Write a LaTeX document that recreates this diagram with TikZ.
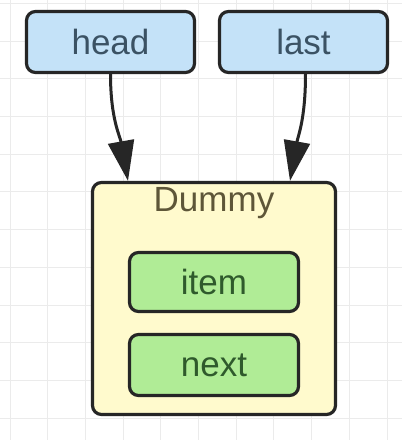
\documentclass[tikz,border=0pt]{standalone}
\usepackage{fontspec}
\setmainfont{Liberation Sans}
\usetikzlibrary{arrows.meta}
\definecolor{ptrfill}{HTML}{C4E2F8}
\definecolor{nodefill}{HTML}{FFFACD}
\definecolor{fieldfill}{HTML}{B0EC96}
\definecolor{gridcol}{HTML}{EBEBEB}
\definecolor{ptrtext}{HTML}{3B5264}
\definecolor{nodetext}{HTML}{5E5638}
\definecolor{fieldtext}{HTML}{2F5A2C}
\tikzset{
  box/.style={draw=black!85, line width=3.2pt, rounded corners=9pt,
    font=\fontsize{35}{40}\selectfont},
  ptrbox/.style={box, fill=ptrfill, text=ptrtext, minimum width=168pt, minimum height=61pt},
  fieldbox/.style={box, fill=fieldfill, text=fieldtext, minimum width=169pt, minimum height=59pt},
  ptr/.style={draw=black!85, line width=3pt, -{Triangle[length=40pt,width=26pt]}},
  gridln/.style={gridcol, line width=1pt}
}
\begin{document}
\begin{tikzpicture}[x=1pt,y=-1pt]
      \useasboundingbox[fill=white] (0,0) rectangle (402,440);
      \foreach \g in {0,...,10} \draw[gridln] ({10+37.7*\g},0) -- ({10+37.7*\g},440);
      \foreach \g in {0,...,11} \draw[gridln] (0,{3.4+37.7*\g}) -- (402,{3.4+37.7*\g});
      \node[ptrbox] (head) at (110.5,42) {head};
      \node[ptrbox] (last) at (303.5,42) {last};
      \node[box, fill=nodefill, minimum width=243pt, minimum height=232pt] (dummy) at (214,298.5) {};
      \node[text=nodetext, font=\fontsize{35}{40}\selectfont] (dummylbl) at (214,203) {Dummy};
      \node[fieldbox] (item) at (214,282) {item};
      \node[fieldbox, minimum height=61pt] (next) at (214,365) {next};
      \coordinate (headend) at ([xshift=-86pt]dummy.north);
      \coordinate (lastend) at ([xshift=76pt]dummy.north);
      \draw[ptr] (head.south) .. controls +(0,45) and +(-8,-45) .. (headend);
      \draw[ptr] ([xshift=2pt]last.south) .. controls +(0,45) and +(8,-45) .. (lastend);
    \end{tikzpicture}
\end{document}
